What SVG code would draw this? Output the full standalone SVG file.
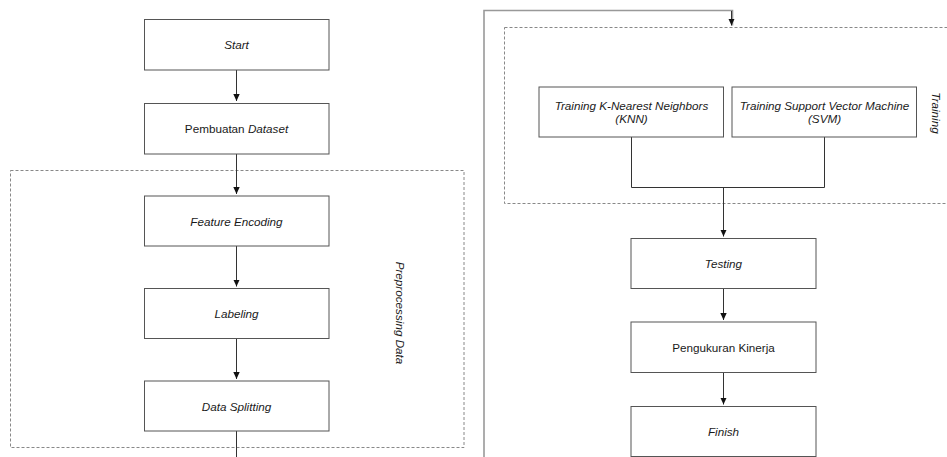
<svg xmlns="http://www.w3.org/2000/svg" width="947" height="457" viewBox="0 0 947 457">
<defs>
<marker id="arr" markerWidth="8" markerHeight="8" refX="7" refY="4" orient="auto" markerUnits="userSpaceOnUse">
<path d="M0,0.8 L7,4 L0,7.2 Z" fill="#111"/>
</marker>
<style>
.box{fill:#fff;stroke:#555;stroke-width:1}
.grp{fill:none;stroke:#888;stroke-width:1;stroke-dasharray:3 2}
.t{font-family:"Liberation Sans",Arial,sans-serif;font-size:11.7px;fill:#1a1a1a;text-anchor:middle}
.i{font-style:italic}
.c{fill:none;stroke:#333;stroke-width:1}
</style>
</defs>
<rect width="947" height="457" fill="#fff"/>
<g id="group-preprocessing">
<rect class="grp" x="10.5" y="170.5" width="453.5" height="277"/>
<text class="t i" transform="translate(395.5,313) rotate(90)">Preprocessing Data</text>
</g>
<g id="group-training">
<rect class="grp" x="504.5" y="27.5" width="450" height="176"/>
<text class="t i" transform="translate(931.5,113) rotate(90)">Training</text>
</g>
<g id="connectors">
<path class="c" d="M236.5,70 V101" marker-end="url(#arr)"/>
<path class="c" d="M236.5,154 V194" marker-end="url(#arr)"/>
<path class="c" d="M236.5,246 V286.5" marker-end="url(#arr)"/>
<path class="c" d="M236.5,338.5 V379" marker-end="url(#arr)"/>
<path class="c" d="M236.5,431 V460"/>
<path d="M484,460 V10.5 H732.5 V25.5" fill="none" stroke="#999" stroke-width="1.6"/>
<path d="M731.5,11 V25.5" fill="none" stroke="#333" stroke-width="1" marker-end="url(#arr)"/>
<path class="c" d="M631.5,137 V187.5 H824.5 V137"/>
<path class="c" d="M723.5,187.5 V236.5" marker-end="url(#arr)"/>
<path class="c" d="M723.5,288.5 V320" marker-end="url(#arr)"/>
<path class="c" d="M723.5,372.5 V404.5" marker-end="url(#arr)"/>
</g>
<g id="start">
<rect class="box" x="144.5" y="19.5" width="184.5" height="50.5"/>
<text class="t i" x="236.5" y="49">Start</text>
</g>
<g id="pembuatan-dataset">
<rect class="box" x="144.5" y="103.5" width="184.5" height="50.5"/>
<text class="t" x="236.5" y="133">Pembuatan <tspan class="i">Dataset</tspan></text>
</g>
<g id="feature-encoding">
<rect class="box" x="144.5" y="196" width="184.5" height="50"/>
<text class="t i" x="236.5" y="225.5">Feature Encoding</text>
</g>
<g id="labeling">
<rect class="box" x="144.5" y="288.5" width="184.5" height="50"/>
<text class="t i" x="236.5" y="318">Labeling</text>
</g>
<g id="data-splitting">
<rect class="box" x="144.5" y="381" width="184.5" height="50"/>
<text class="t i" x="236.5" y="410.5">Data Splitting</text>
</g>
<g id="training-knn">
<rect class="box" x="539" y="87" width="184.5" height="50"/>
<text class="t i" x="631.5" y="109.5">Training K-Nearest Neighbors</text>
<text class="t i" x="631.5" y="122.5">(KNN)</text>
</g>
<g id="training-svm">
<rect class="box" x="732" y="87" width="184.5" height="50"/>
<text class="t i" x="824.5" y="109.5">Training Support Vector Machine</text>
<text class="t i" x="824.5" y="122.5">(SVM)</text>
</g>
<g id="testing">
<rect class="box" x="631" y="238.5" width="185" height="50"/>
<text class="t i" x="723.5" y="268">Testing</text>
</g>
<g id="pengukuran-kinerja">
<rect class="box" x="631" y="322" width="185" height="50.5"/>
<text class="t" x="723.5" y="351.5">Pengukuran Kinerja</text>
</g>
<g id="finish">
<rect class="box" x="631" y="406.5" width="185" height="50"/>
<text class="t i" x="723.5" y="436">Finish</text>
</g>
</svg>
